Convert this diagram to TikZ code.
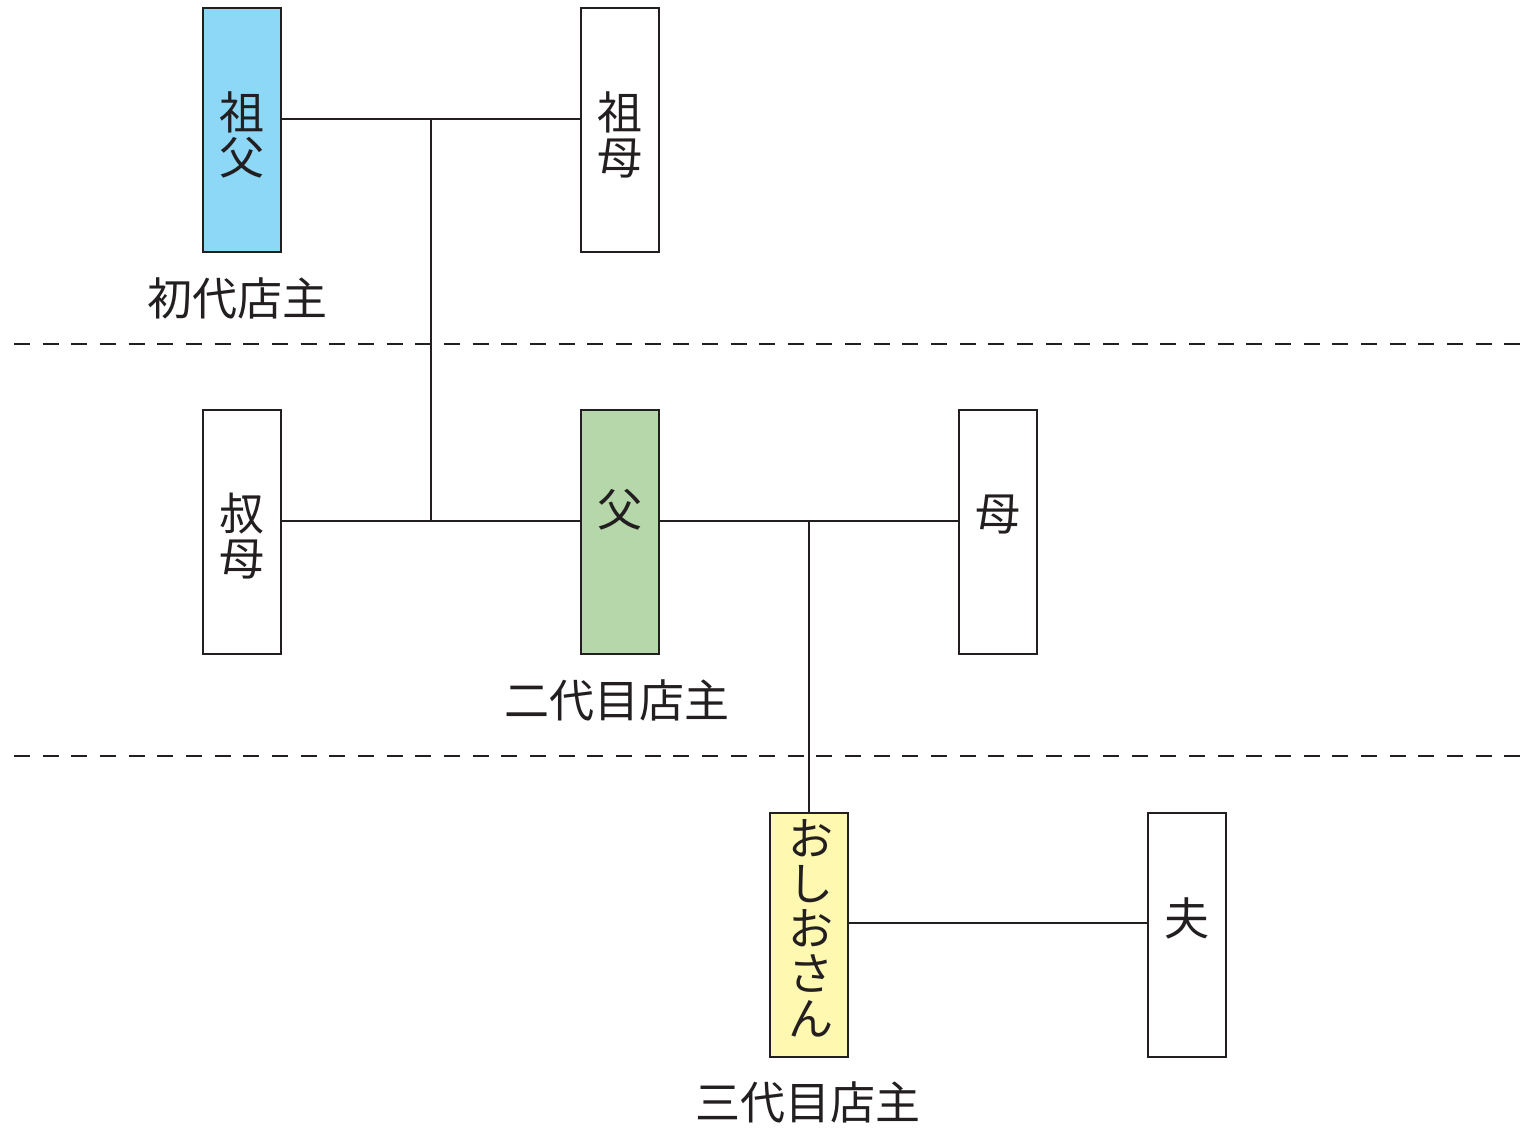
\documentclass[tikz,border=0pt]{standalone}
\usepackage{fontspec}
\setmainfont{Noto Sans CJK JP}
\begin{document}
\begin{tikzpicture}[x=0.5pt,y=-0.5pt,
  every path/.style={line width=1pt},
  personbox/.style={draw=ink,line width=1pt,rectangle,minimum width=39pt,minimum height=122pt,inner sep=0pt},
  vtext/.style={font=\fontsize{22.5pt}{22.5pt}\selectfont,align=center,text=ink,inner sep=0pt},
  gentext/.style={font=\fontsize{22.5pt}{26pt}\selectfont,text=ink,inner sep=0pt},
  conn/.style={draw=ink,line width=1pt},
  sep/.style={draw=ink,line width=1pt,dash pattern=on 8pt off 6.33pt}]
\definecolor{ink}{HTML}{231F20}
\definecolor{blueF}{HTML}{8DD8F7}
\definecolor{greenF}{HTML}{B5D7AA}
\definecolor{yellowF}{HTML}{FFF8B0}
\useasboundingbox (0,0) rectangle (1520,1130);
% separators
\coordinate (s1a) at (14,344); \coordinate (s1b) at (1520,344);
\coordinate (s2a) at (14,756); \coordinate (s2b) at (1520,756);
\draw[sep] (s1a) -- (s1b);
\draw[sep] (s2a) -- (s2b);
% boxes
\node[personbox,fill=blueF] (sofu) at (242,130) {};
\node[personbox,fill=white] (sobo) at (620,130) {};
\node[personbox,fill=white] (oba) at (242,532) {};
\node[personbox,fill=greenF] (chichi) at (620,532) {};
\node[personbox,fill=white] (haha) at (998,532) {};
\node[personbox,fill=yellowF] (oshio) at (809,935) {};
\node[personbox,fill=white] (otto) at (1187,935) {};
% texts
\node[vtext] (tsofu) at (242,135) {祖\\父};
\node[vtext] (tsobo) at (620,135) {祖\\母};
\node[vtext] (toba) at (242,536) {叔\\母};
\node[vtext] (tchichi) at (620,510) {父};
\node[vtext] (thaha) at (998,515) {母};
\node[vtext] (toshio) at (811,928) {お\\し\\お\\さ\\ん};
\node[vtext] (totto) at (1187,918) {夫};
% generation labels
\node[gentext] (g1) at (237,298) {初代店主};
\node[gentext] (g2) at (617,700) {二代目店主};
\node[gentext] (g3) at (808,1102) {三代目店主};
% connectors
\coordinate (j1) at (431,119);
\coordinate (j2) at (431,521);
\coordinate (j3) at (809,521);
\coordinate (j4) at (998,923);
\draw[conn] (sofu.east |- j1) -- (sobo.west |- j1);
\draw[conn] (j1) -- (j2);
\draw[conn] (oba.east |- j2) -- (chichi.west |- j2);
\draw[conn] (chichi.east |- j3) -- (haha.west |- j3);
\draw[conn] (j3) -- (oshio.north);
\draw[conn] (oshio.east |- j4) -- (otto.west |- j4);
\end{tikzpicture}
\end{document}
